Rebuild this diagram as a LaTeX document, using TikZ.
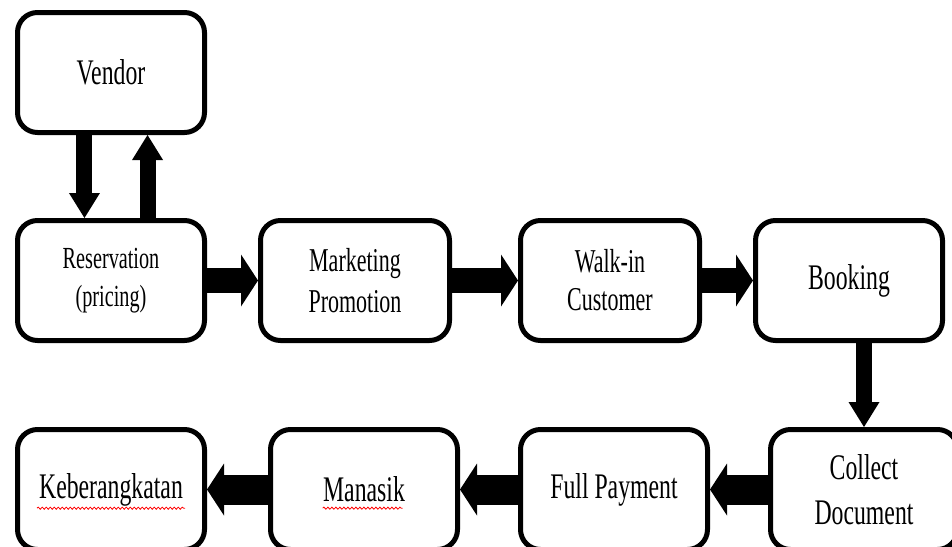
\documentclass[tikz,border=0pt]{standalone}
\usepackage{fontspec}
\setmainfont{Liberation Serif}[FakeStretch=0.66]
\usetikzlibrary{arrows.meta,decorations.pathmorphing}

\begin{document}
\begin{tikzpicture}[x=0.75pt,y=0.75pt,yscale=-1,xscale=1,
  box/.style={draw, line width=3.75pt, rounded corners=15pt, minimum width=140.25pt, minimum height=90pt, align=center, inner sep=0pt, font=\fontsize{27}{33}\selectfont},
  fatright/.style={line width=18.75pt, -{Triangle[width=39pt,length=12.75pt,line width=0pt]}},
  fatleft/.style={line width=22.5pt, -{Triangle[width=39pt,length=12.75pt,line width=0pt]}},
  fatdown/.style={line width=12pt, -{Triangle[width=23.25pt,length=18.75pt,line width=0pt]}},
  squiggle/.style={draw=red, line width=0.6pt, decorate, decoration={snake, amplitude=0.8pt, segment length=3pt}}]
\useasboundingbox (0,0) rectangle (952,546);
\clip (0,0) rectangle (952,546);

%Boxes: top row
\node [box] (vendor) at (111,72.5) {Vendor};
%Boxes: middle row
\node [box, font=\fontsize{23}{28}\selectfont] (reserv) at (111,280.5) {Reservation\\(pricing)};
\node [box, minimum width=141.75pt, font=\fontsize{25}{30.75}\selectfont] (market) at (355,280.5) {Marketing\\Promotion};
\node [box, minimum width=134.25pt, font=\fontsize{25}{28.5}\selectfont] (walkin) at (610,280.5) {Walk-in\\Customer};
\node [box] (booking) at (849,280.5) {Booking};
%Boxes: bottom row
\node [box, font=\fontsize{27}{34}\selectfont] (collect) at (864,489.5) {Collect\\Document};
\node [box] (fullpay) at (614,489.5) {Full Payment};
\node [box] (manasik) at (364,489.5) {Manasik};
\node [box] (keber) at (111,489.5) {Keberangkatan};

%Arrows
\draw [fatdown] ([xshift=-19.9pt]vendor.south) -- ([xshift=-19.9pt]reserv.north);
\draw [fatdown] ([xshift=27.4pt]reserv.north) -- ([xshift=27.4pt]vendor.south);
\draw [fatright] (reserv) -- (market);
\draw [fatright] (market) -- (walkin);
\draw [fatright] (walkin) -- (booking);
\draw [fatdown] (booking.south -| collect.north) -- (collect.north);
\draw [fatleft] (collect) -- (fullpay);
\draw [fatleft] (fullpay) -- (manasik);
\draw [fatleft] (manasik) -- (keber);

%Spelling marks
\draw [squiggle] ([xshift=-55.5pt,yshift=14pt]keber.center) -- ([xshift=55.5pt,yshift=14pt]keber.center);
\draw [squiggle] ([xshift=-31pt,yshift=14pt]manasik.center) -- ([xshift=29pt,yshift=14pt]manasik.center);

\end{tikzpicture}
\end{document}
